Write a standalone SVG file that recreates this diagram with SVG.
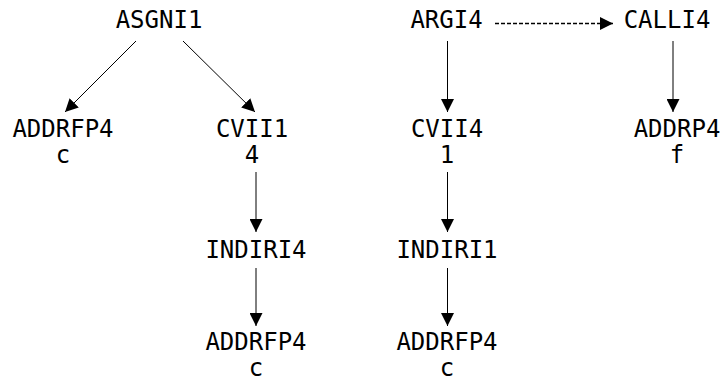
<svg xmlns="http://www.w3.org/2000/svg" width="720" height="382" viewBox="0 0 720 382">
<style>
text{font-family:"DejaVu Sans Mono","Liberation Mono",monospace;font-size:24px;fill:#000;text-anchor:middle}
.e{stroke:#000;stroke-width:1;fill:none;marker-end:url(#ah)}
.d{stroke-dasharray:4,2;stroke-width:1.4}
</style>
<defs>
<marker id="ah" markerUnits="userSpaceOnUse" markerWidth="13" markerHeight="13" refX="13" refY="6.5" orient="auto">
<path d="M0,0 L13,6.5 L0,13 z" fill="#000"/>
</marker>
</defs>
<rect width="720" height="382" fill="#fff"/>
<g id="n_asgni1"><text x="159" y="28">ASGNI1</text></g>
<g id="n_addrfp4_a"><text x="63" y="137">ADDRFP4</text><text x="63" y="163">c</text></g>
<g id="n_cvii1"><text x="252" y="137">CVII1</text><text x="252" y="163">4</text></g>
<g id="n_indiri4"><text x="256" y="258">INDIRI4</text></g>
<g id="n_addrfp4_b"><text x="256" y="350">ADDRFP4</text><text x="256" y="376">c</text></g>
<g id="n_argi4"><text x="446.5" y="28">ARGI4</text></g>
<g id="n_cvii4"><text x="447" y="137">CVII4</text><text x="447" y="163">1</text></g>
<g id="n_indiri1"><text x="447" y="258">INDIRI1</text></g>
<g id="n_addrfp4_c"><text x="447" y="350">ADDRFP4</text><text x="447" y="376">c</text></g>
<g id="n_calli4"><text x="667" y="28">CALLI4</text></g>
<g id="n_addrp4"><text x="677" y="137">ADDRP4</text><text x="677" y="163">f</text></g>
<g id="edges">
<line class="e" x1="136" y1="41" x2="65" y2="112"/>
<line class="e" x1="183" y1="41" x2="255" y2="112"/>
<line class="e" x1="256" y1="172" x2="256" y2="232"/>
<line class="e" x1="256" y1="268" x2="256" y2="326"/>
<line class="e" x1="447.5" y1="41" x2="447.5" y2="112"/>
<line class="e" x1="447.5" y1="172" x2="447.5" y2="232"/>
<line class="e" x1="447.5" y1="268" x2="447.5" y2="326"/>
<line class="e" x1="673" y1="41" x2="673" y2="112"/>
<line class="e d" x1="495" y1="23.5" x2="613" y2="23.5"/>
</g>
</svg>
